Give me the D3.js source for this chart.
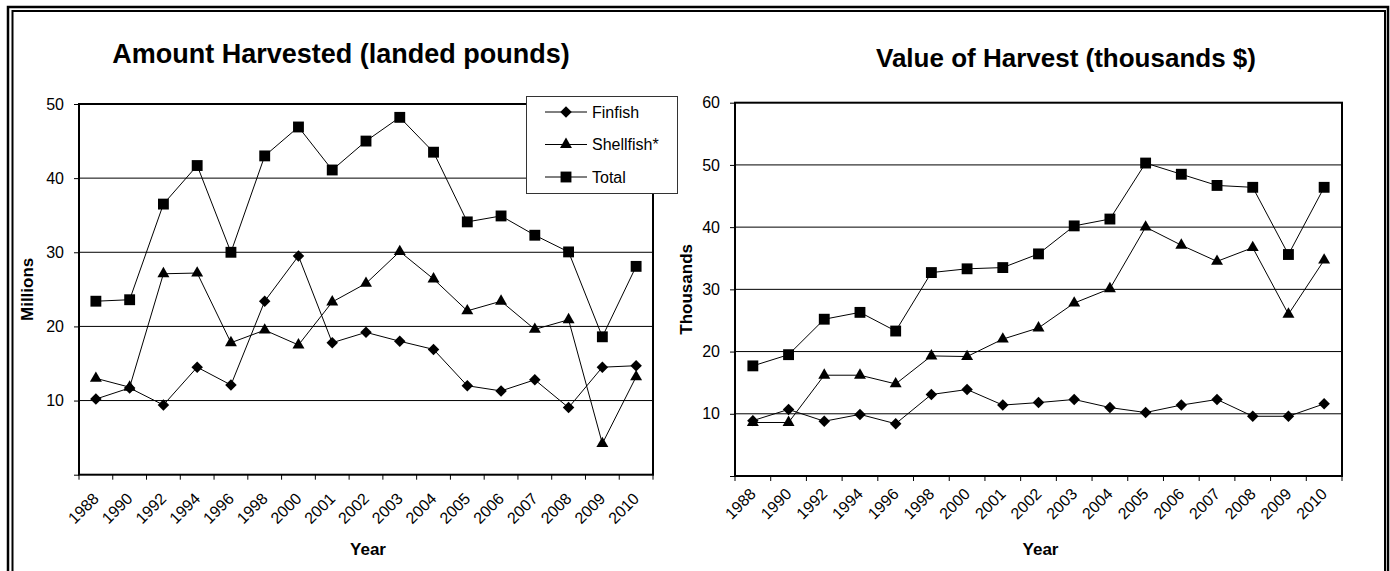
<!DOCTYPE html>
<html>
<head>
<meta charset="utf-8">
<script src="https://cdn.jsdelivr.net/npm/d3@7"></script>
<style>
  body { margin: 0; background: #fff; }
  text { font-family: "Liberation Sans", Arial, sans-serif; fill: #000; }
</style>
</head>
<body>
<svg></svg>
<script>
var width = 1390;
var height = 571;

// category labels (shared by both charts)
var years = ["1988", "1990", "1992", "1994", "1996", "1998", "2000", "2001", "2002",
             "2003", "2004", "2005", "2006", "2007", "2008", "2009", "2010"];

// landed pounds, millions
var lbsFinfish   = [10.2, 11.7, 9.4, 14.5, 12.1, 23.4, 29.5, 17.8, 19.2, 18.0, 16.9, 12.0, 11.3, 12.8, 9.05, 14.5, 14.7];
var lbsShellfish = [13.0, 11.8, 27.1, 27.2, 17.8, 19.5, 17.5, 23.3, 25.8, 30.1, 26.4, 22.1, 23.4, 19.6, 20.9, 4.2, 13.2];
var lbsTotal     = [23.4, 23.6, 36.5, 41.7, 30.0, 43.0, 46.9, 41.1, 45.0, 48.2, 43.5, 34.1, 34.9, 32.3, 30.05, 18.6, 28.1];
var lbsTicks     = [0, 10, 20, 30, 40, 50];

// value of harvest, thousands
var valFinfish   = [8.9, 10.7, 8.8, 9.9, 8.4, 13.1, 13.9, 11.4, 11.8, 12.3, 11.0, 10.2, 11.4, 12.3, 9.6, 9.6, 11.6];
var valShellfish = [8.6, 8.6, 16.2, 16.2, 14.8, 19.3, 19.2, 22.0, 23.8, 27.8, 30.1, 40.0, 37.1, 34.5, 36.7, 26.0, 34.7];
var valTotal     = [17.7, 19.5, 25.2, 26.3, 23.3, 32.7, 33.3, 33.5, 35.7, 40.2, 41.3, 50.3, 48.5, 46.7, 46.4, 35.6, 46.4];
var valTicks     = [0, 10, 20, 30, 40, 50, 60];

var seriesNames = ["Finfish", "Shellfish*", "Total"];

var svg = d3.select("svg")
            .attr("width", width)
            .attr("height", height);

// double frame round the whole picture
svg.append("rect")
   .attr("x", 8).attr("y", 7)
   .attr("width", 1380).attr("height", 600)
   .attr("fill", "none")
   .attr("stroke", "#000")
   .attr("stroke-width", 2.5);

svg.append("rect")
   .attr("x", 12.5).attr("y", 11)
   .attr("width", 1372.5).attr("height", 600)
   .attr("fill", "none")
   .attr("stroke", "#000")
   .attr("stroke-width", 2);

var symbolFor = {
  "Finfish": function() { return d3.symbol().type(d3.symbolSquare).size(66)(); },
  "Shellfish*": function() { return d3.symbol().type(d3.symbolTriangle).size(62)(); },
  "Total": function() { return d3.symbol().type(d3.symbolSquare).size(118)(); }
};
var rotateFor = { "Finfish": 45, "Shellfish*": 0, "Total": 0 };

drawChart({
  title: "Amount Harvested (landed pounds)",
  titleX: 341, titleY: 63, titleSize: 27,
  yLabel: "Millions", yLabelX: 27,
  left: 79, right: 653, top: 104, bottom: 474.7,
  ticks: lbsTicks,
  labelDrop: 25,
  series: [lbsFinfish, lbsShellfish, lbsTotal],
  legend: true
});

drawChart({
  title: "Value of Harvest (thousands $)",
  titleX: 1066, titleY: 67, titleSize: 26,
  yLabel: "Thousands", yLabelX: 686,
  left: 735, right: 1342, top: 102.7, bottom: 476,
  ticks: valTicks,
  labelDrop: 19,
  series: [valFinfish, valShellfish, valTotal],
  legend: false
});

function drawChart(cfg) {

  var g = svg.append("g");

  var x = d3.scaleBand()
            .domain(years)
            .range([cfg.left, cfg.right])
            .padding(0);

  var y = d3.scaleLinear()
            .domain([0, d3.max(cfg.ticks)])
            .range([cfg.bottom, cfg.top]);

  // gridlines
  g.selectAll(".grid")
   .data(cfg.ticks.slice(1, -1))
   .enter()
   .append("line")
   .attr("x1", cfg.left).attr("x2", cfg.right)
   .attr("y1", function(d) { return y(d); })
   .attr("y2", function(d) { return y(d); })
   .attr("stroke", "#000")
   .attr("stroke-width", 1);

  // plot border
  g.append("rect")
   .attr("x", cfg.left).attr("y", cfg.top)
   .attr("width", cfg.right - cfg.left)
   .attr("height", cfg.bottom - cfg.top)
   .attr("fill", "none")
   .attr("stroke", "#000")
   .attr("stroke-width", 2);

  // y axis
  var yAxis = d3.axisLeft(y)
                .tickValues(cfg.ticks)
                .tickSize(5)
                .tickPadding(10)
                .tickFormat(function(d) { return d === 0 ? "" : d; });

  var ya = g.append("g")
            .attr("transform", "translate(" + cfg.left + ",0)")
            .call(yAxis);
  ya.select(".domain").remove();
  ya.selectAll("text")
    .style("font-size", "16px");
  ya.selectAll("line").attr("stroke", "#000");

  // x ticks sit between categories
  var edges = d3.range(years.length + 1).map(function(i) { return cfg.left + i * x.step(); });
  g.selectAll(".xtick")
   .data(edges)
   .enter()
   .append("line")
   .attr("x1", function(d) { return d; })
   .attr("x2", function(d) { return d; })
   .attr("y1", cfg.bottom)
   .attr("y2", cfg.bottom + 5)
   .attr("stroke", "#000");

  g.selectAll(".xlabel")
   .data(years)
   .enter()
   .append("text")
   .style("font-size", "16px")
   .attr("text-anchor", "end")
   .attr("transform", function(d) {
      return "translate(" + (x(d) + x.bandwidth() / 2 + 4) + "," + (cfg.bottom + cfg.labelDrop) + ") rotate(-45)";
   })
   .text(function(d) { return d; });

  // titles
  g.append("text")
   .attr("x", cfg.titleX).attr("y", cfg.titleY)
   .attr("text-anchor", "middle")
   .style("font-size", cfg.titleSize + "px")
   .attr("font-weight", "bold")
   .text(cfg.title);

  g.append("text")
   .attr("x", (cfg.left + cfg.right) / 2 + 2).attr("y", 555)
   .attr("text-anchor", "middle")
   .style("font-size", "17px")
   .attr("font-weight", "bold")
   .text("Year");

  g.append("text")
   .attr("transform", "translate(" + (cfg.yLabelX + 6) + "," + ((cfg.top + cfg.bottom) / 2) + ") rotate(-90)")
   .attr("text-anchor", "middle")
   .style("font-size", "17px")
   .attr("font-weight", "bold")
   .text(cfg.yLabel);

  // lines and markers
  var line = d3.line()
               .x(function(d, i) { return x(years[i]) + x.bandwidth() / 2; })
               .y(function(d) { return y(d); });

  cfg.series.forEach(function(values, k) {
    var name = seriesNames[k];

    g.append("path")
     .datum(values)
     .attr("d", line)
     .attr("fill", "none")
     .attr("stroke", "#000")
     .attr("stroke-width", 1);

    g.selectAll(".m" + k)
     .data(values)
     .enter()
     .append("path")
     .attr("d", symbolFor[name]())
     .attr("transform", function(d, i) {
        return "translate(" + (x(years[i]) + x.bandwidth() / 2) + "," + y(d) + ") rotate(" + rotateFor[name] + ")";
     })
     .attr("fill", "#000");
  });

  if (cfg.legend) drawLegend(g);
}

function drawLegend(g) {

  var lg = g.append("g");

  lg.append("rect")
    .attr("x", 526.5).attr("y", 96.5)
    .attr("width", 151).attr("height", 97)
    .attr("fill", "#fff")
    .attr("stroke", "#333")
    .attr("stroke-width", 1);

  var rows = lg.selectAll(".row")
               .data(seriesNames)
               .enter()
               .append("g")
               .attr("transform", function(d, i) { return "translate(0," + (112 + i * 32.5) + ")"; });

  rows.append("line")
      .attr("x1", 545).attr("x2", 587)
      .attr("stroke", "#000");

  rows.append("path")
      .attr("d", function(d) { return symbolFor[d](); })
      .attr("transform", function(d) { return "translate(566,0) rotate(" + rotateFor[d] + ")"; })
      .attr("fill", "#000");

  rows.append("text")
      .attr("x", 592)
      .attr("dy", "0.35em")
      .style("font-size", "16px")
      .text(function(d) { return d; });
}
</script>
</body>
</html>
